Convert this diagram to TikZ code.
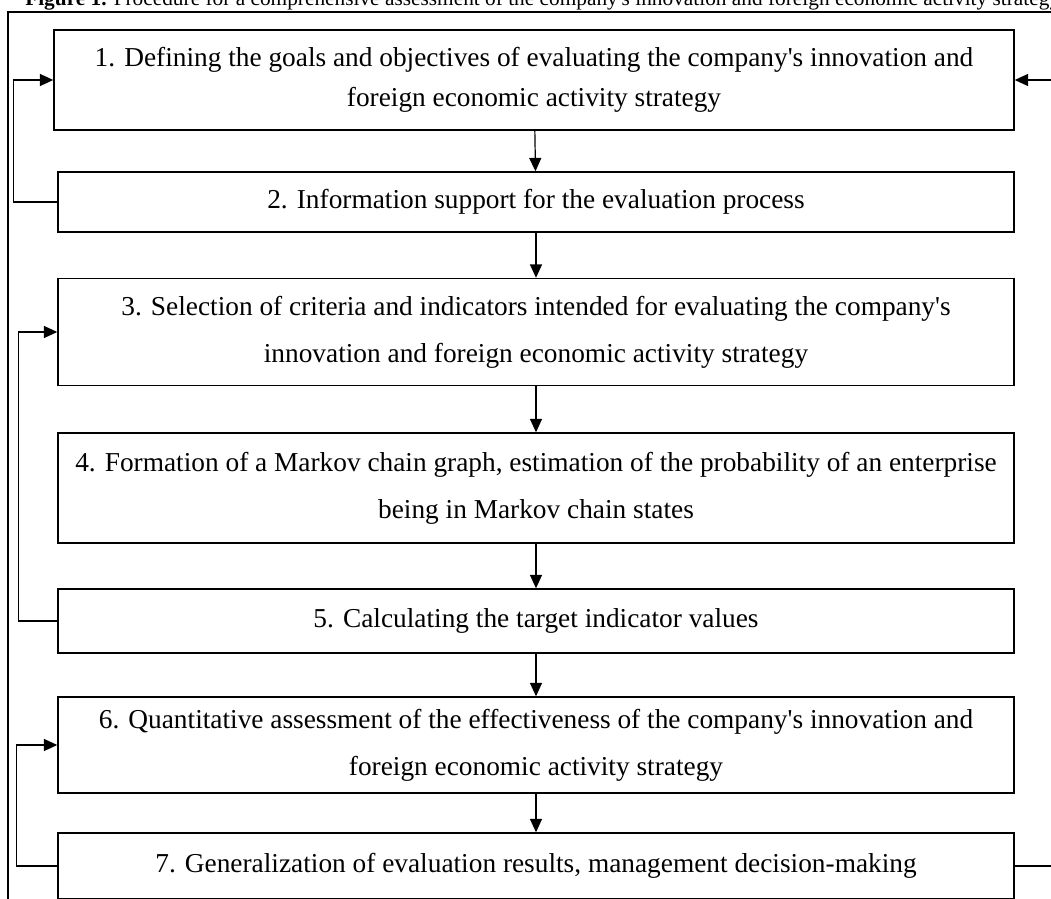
\documentclass[tikz,border=0pt]{standalone}
\usepackage{fontspec}
\setmainfont{Liberation Serif}
\usetikzlibrary{arrows.meta}

\tikzset{
  stage/.style={draw, line width=1.1pt, minimum width=717pt, inner sep=0pt,
    align=center, font=\fontsize{20.5}{35}\selectfont},
  flow/.style={-{Triangle[length=10pt,width=9pt]}, line width=0.9pt},
}

\begin{document}
\begin{tikzpicture}[x=0.75pt, y=-0.75pt]
\useasboundingbox (0,0) rectangle (1051,899);

% caption, cut at the top
\node[anchor=base west, inner sep=0pt, font=\fontsize{16}{18}\selectfont] (title) at (25,6)
  {\textbf{Figure 1.} Procedure for a comprehensive assessment of the company\textquotesingle s innovation and foreign economic activity strategy};
\draw[line width=1.6pt] (8,12) rectangle (1120,960);

% stages
\node[stage, minimum width=720pt, minimum height=75pt, font=\fontsize{20.5}{30}\selectfont] (s1) at (534,80)
  {1. Defining the goals and objectives of evaluating the company\textquotesingle s innovation and\\foreign economic activity strategy};
\node[stage, minimum height=45pt] (s2) at (536,202) {2. Information support for the evaluation process};
\node[stage, minimum height=80.25pt] (s3) at (536,332)
  {3. Selection of criteria and indicators intended for evaluating the company\textquotesingle s\\innovation and foreign economic activity strategy};
\node[stage, minimum height=82.5pt] (s4) at (536,488)
  {4. Formation of a Markov chain graph, estimation of the probability of an enterprise\\being in Markov chain states};
\node[stage, minimum height=48pt] (s5) at (536,621) {5. Calculating the target indicator values};
\node[stage, minimum height=72pt] (s6) at (536,745)
  {6. Quantitative assessment of the effectiveness of the company\textquotesingle s innovation and\\foreign economic activity strategy};
\node[stage, minimum height=49.5pt] (s7) at (536,866) {7. Generalization of evaluation results, management decision-making};

% main flow
\draw[flow] (s1) -- (s2);
\draw[flow] (s2) -- (s3);
\draw[flow] (s3) -- (s4);
\draw[flow] (s4) -- (s5);
\draw[flow] (s5) -- (s6);
\draw[flow] (s6) -- (s7);

% feedback loops
\draw[flow] (s2.west) -- ++(-44,0) |- (s1.west);
\draw[flow] (s5.west) -- ++(-39,0) |- (s3.west);
\draw[flow] (s7.west) -- ++(-41,0) |- (s6.west);
\draw[flow] (s7.east) -- ++(80,0) |- (s1.east);

\end{tikzpicture}
\end{document}
